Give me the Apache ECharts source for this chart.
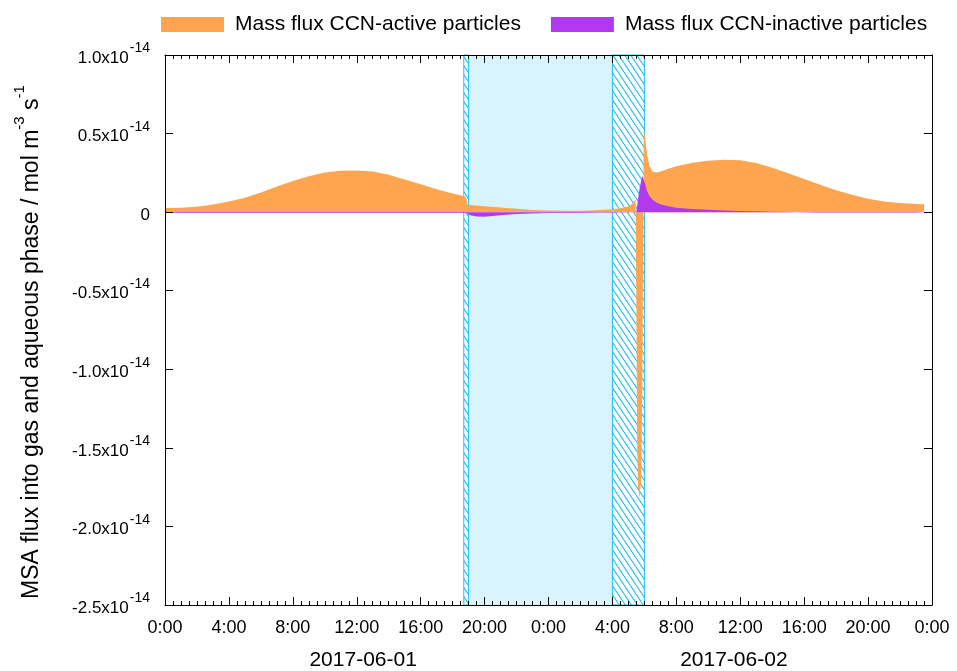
<!DOCTYPE html>
<html>
<head>
<meta charset="utf-8">
<script src="https://cdn.jsdelivr.net/npm/echarts@6/dist/echarts.min.js"></script>
<style>
html,body{margin:0;padding:0;background:#fff;}
#chart{width:957px;height:671px;}
</style>
</head>
<body>
<div id="chart"></div>
<script>
// time in hours since 2017-06-01 0:00
var hours = [0,1,2,3,4,5,6,7,8,9,10,11,12,13,14,15,16,17,18,18.7,18.85,18.95,19.1,19.5,20,21,22,23,24,25,26,27,28,28.5,29,29.2,29.35,29.45,29.5,29.55,29.6,29.7,29.8,29.87,29.92,29.97,30.05,30.15,30.3,30.5,30.75,31,31.5,32,33,34,35,36,37,38,39,40,41,42,43,44,45,46,47,47.5];
// values in units of 1e-14 mol m-3 s-1
var fluxActive = [0.026,0.028,0.035,0.048,0.068,0.092,0.125,0.163,0.198,0.229,0.252,0.264,0.265,0.258,0.238,0.208,0.177,0.146,0.119,0.102,0.095,0.04,0.045,0.042,0.038,0.03,0.021,0.014,0.01,0.009,0.009,0.012,0.018,0.024,0.038,0.05,0.068,0.082,-0.6,-1.5,-1.74,-1.82,-1.7,-1.1,-0.2,0.52,0.47,0.38,0.3,0.258,0.252,0.258,0.276,0.292,0.314,0.327,0.333,0.331,0.313,0.283,0.248,0.211,0.175,0.14,0.111,0.086,0.068,0.058,0.052,0.05];
var fluxInactive = [-0.006,-0.006,-0.006,-0.006,-0.006,-0.006,-0.006,-0.006,-0.006,-0.006,-0.006,-0.006,-0.006,-0.006,-0.006,-0.006,-0.006,-0.006,-0.006,-0.006,-0.006,-0.01,-0.02,-0.028,-0.03,-0.02,-0.012,-0.008,-0.006,-0.005,-0.005,-0.004,-0.004,-0.003,-0.002,-0.001,0,0,0.005,0.04,0.08,0.15,0.2,0.23,0.24,0.22,0.18,0.14,0.105,0.08,0.062,0.05,0.037,0.028,0.02,0.015,0.011,0.008,0.005,0.003,0.001,-0.002,-0.004,-0.004,-0.004,-0.004,-0.004,-0.004,-0.004,-0.004];
var seriesNames = ['Mass flux CCN-active particles','Mass flux CCN-inactive particles'];
var xTickLabels = ['0:00','4:00','8:00','12:00','16:00','20:00','0:00','4:00','8:00','12:00','16:00','20:00','0:00'];
var dateLabels = ['2017-06-01','2017-06-02'];
var dateCenters = [12.4,35.6];
var yTickValues = [1.0,0.5,0,-0.5,-1.0,-1.5,-2.0,-2.5];
var yTickLabels = ['1.0x10','0.5x10','0','-0.5x10','-1.0x10','-1.5x10','-2.0x10','-2.5x10'];
var hatchPeriods = [[18.7,19.0],[28.0,30.0]];
var nightPeriods = [[19.0,28.0]];

var cyan = '#1ebff0';
function makeHatch(){
  var w = 6, h = 9;
  var c = document.createElement('canvas');
  c.width = w; c.height = h;
  var ctx = c.getContext('2d');
  ctx.fillStyle = '#ffffff';
  ctx.fillRect(0,0,w,h);
  ctx.strokeStyle = cyan;
  ctx.lineWidth = 1.1;
  for (var k=-1;k<=1;k++){
    ctx.beginPath();
    ctx.moveTo(k*w,0);
    ctx.lineTo(k*w+w,h);
    ctx.stroke();
  }
  return c;
}
var hatch = makeHatch();

var areaData = [];
nightPeriods.forEach(function(p){
  areaData.push([{xAxis:p[0], itemStyle:{color:'#d9f4fd', borderWidth:0}},{xAxis:p[1]}]);
});
hatchPeriods.forEach(function(p){
  areaData.push([{xAxis:p[0], itemStyle:{color:{image:hatch, repeat:'repeat'}, borderColor:cyan, borderWidth:1}},{xAxis:p[1]}]);
});

var chart = echarts.init(document.getElementById('chart'), null, {renderer:'canvas'});
var font = '"Liberation Sans", Arial, sans-serif';
var option = {
  animation:false,
  textStyle:{fontFamily:font, color:'#000'},
  grid:{left:165, right:25, top:55, bottom:65},
  legend:{
    left:161, top:14, padding:0, itemWidth:63, itemHeight:15, itemGap:30, icon:'rect',
    textStyle:{fontSize:21, color:'#000', fontFamily:font, padding:[0,0,0,6]},
    data:seriesNames
  },
  xAxis:[
    {type:'value', position:'bottom', min:0, max:48, interval:4, z:10,
     axisLine:{show:true, onZero:false, lineStyle:{color:'#000', width:1}},
     axisTick:{show:true, inside:true, length:8, lineStyle:{color:'#000'}},
     minorTick:{show:true, splitNumber:8, length:4, lineStyle:{color:'#000'}},
     splitLine:{show:false},
     axisLabel:{fontSize:18, color:'#000', margin:14, fontFamily:font,
       formatter:function(v){return xTickLabels[Math.round(v/4)];}}
    },
    {type:'value', position:'bottom', min:0, max:48, interval:0.2, z:10,
     axisLine:{show:false}, axisTick:{show:false}, splitLine:{show:false},
     axisLabel:{fontSize:21, color:'#000', margin:45, fontFamily:font, showMinLabel:false, showMaxLabel:false,
       formatter:function(v){
         for (var i=0;i<dateCenters.length;i++){ if (Math.abs(dateCenters[i]-v)<0.05) return dateLabels[i]; }
         return '';
       }}
    },
    {type:'value', position:'top', min:0, max:48, interval:4, z:10,
     axisLine:{show:true, onZero:false, lineStyle:{color:'#000', width:1}},
     axisTick:{show:true, inside:true, length:8, lineStyle:{color:'#000'}},
     minorTick:{show:true, splitNumber:8, length:4, lineStyle:{color:'#000'}},
     splitLine:{show:false}, axisLabel:{show:false}
    }
  ],
  yAxis:[
    {type:'value', position:'left', min:-2.5, max:1.0, interval:0.5, z:10,
     axisLine:{show:true, onZero:false, lineStyle:{color:'#000', width:1}},
     axisTick:{show:true, inside:true, length:8, lineStyle:{color:'#000'}},
     splitLine:{show:false},
     axisLabel:{fontSize:17, color:'#000', margin:15, fontFamily:font,
       formatter:function(v){
         var i = -1;
         for (var k=0;k<yTickValues.length;k++){ if (Math.abs(yTickValues[k]-v)<1e-9) i=k; }
         if (i<0) return '';
         if (yTickValues[i]===0) return '{z|0}';
         return '{n|'+yTickLabels[i]+'}{s|-14}';
       },
       rich:{
         z:{fontSize:17, fontFamily:font, color:'#000', padding:[6,0,0,0]},
         n:{fontSize:17, lineHeight:17, fontFamily:font, color:'#000', padding:[10,0,4,0]},
         s:{fontSize:14, lineHeight:14, fontFamily:font, color:'#000', padding:[2,0,15,1]}
       }
     },
     name:'{b|MSA flux into gas and aqueous phase / mol m}{s|-3}{b| s}{e|-1}',
     nameLocation:'middle', nameGap:126,
     nameTextStyle:{fontSize:23, color:'#000', fontFamily:font,
       rich:{
         b:{fontSize:23, lineHeight:23, fontFamily:font, color:'#000', padding:[8,0,0,0]},
         s:{fontSize:15, lineHeight:15, fontFamily:font, color:'#000', padding:[0,0,16,0]},
         e:{fontSize:15, lineHeight:15, fontFamily:font, color:'#000', padding:[0,24,16,0]}
       }}
    },
    {type:'value', position:'right', min:-2.5, max:1.0, interval:0.5, z:10,
     axisLine:{show:true, onZero:false, lineStyle:{color:'#000', width:1}},
     axisTick:{show:true, inside:true, length:8, lineStyle:{color:'#000'}},
     splitLine:{show:false}, axisLabel:{show:false}
    }
  ],
  series:[
    {type:'line', name:'bg', xAxisIndex:0, yAxisIndex:0, data:[], z:1, silent:true,
     markArea:{silent:true, data:areaData}},
    {type:'line', name:seriesNames[0], xAxisIndex:0, yAxisIndex:0, z:3,
     showSymbol:false, symbol:'none', color:'#ffa54f',
     lineStyle:{width:0}, areaStyle:{color:'#ffa54f', opacity:1, origin:0},
     data:hours.map(function(h,i){return [h, fluxActive[i]];})},
    {type:'line', name:seriesNames[1], xAxisIndex:0, yAxisIndex:0, z:4,
     showSymbol:false, symbol:'none', color:'#b23aee',
     lineStyle:{width:0}, areaStyle:{color:'#b23aee', opacity:1, origin:0},
     data:hours.map(function(h,i){return [h, fluxInactive[i]];})}
  ]
};
chart.setOption(option);
</script>
</body>
</html>
